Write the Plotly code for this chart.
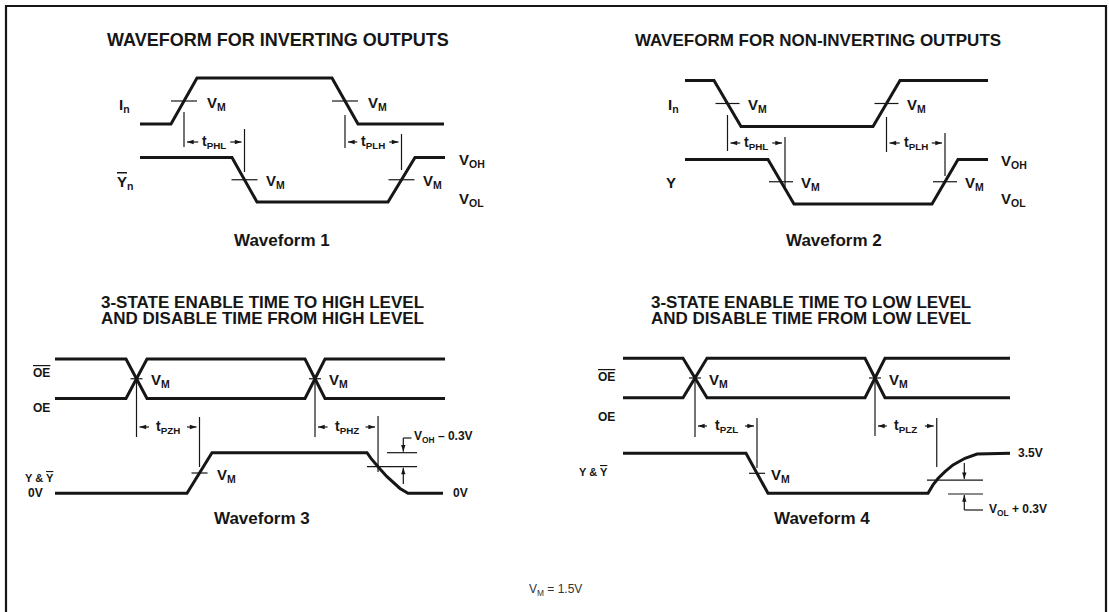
import plotly.graph_objects as go

# ---------------- data: waveform breakpoints (time units) and logic levels ----------------
# Waveform 1 - inverting outputs
W1_IN_T = [140, 171, 197, 332, 358, 444]
W1_IN_LV = [0, 0, 1, 1, 0, 0]
W1_YN_T = [140, 232, 257, 388, 415, 445]
W1_YN_LV = [1, 1, 0, 0, 1, 1]

# Waveform 2 - non-inverting outputs
W2_IN_T = [685, 714, 741, 873, 900, 988]
W2_IN_LV = [1, 1, 0, 0, 1, 1]
W2_Y_T = [685, 768, 794, 932, 958, 988]
W2_Y_LV = [1, 1, 0, 0, 1, 1]

# Waveform 3 - 3-state enable/disable, high level
W3_OE_T = [55, 126, 147, 305, 325, 445]
W3_OEB_LV = [1, 1, 0, 0, 1, 1]
W3_OE_LV = [0, 0, 1, 1, 0, 0]
W3_Y_T = [55, 187, 212, 367, 371, 375, 380, 387, 393, 400, 408, 443]
W3_Y_LV = [0, 0, 1, 1, 0.86, 0.74, 0.60, 0.41, 0.27, 0.12, 0, 0]
W3_REF_LV = 0.655          # VOH - 0.3V level

# Waveform 4 - 3-state enable/disable, low level
W4_OE_T = [623, 683, 707, 865, 885, 1010]
W4_OEB_LV = [1, 1, 0, 0, 1, 1]
W4_OE_LV = [0, 0, 1, 1, 0, 0]
W4_Y_T = [623, 746, 768, 928, 933, 938, 945, 953, 965, 977, 1010]
W4_Y_LV = [1, 1, 0, 0, 0.21, 0.37, 0.54, 0.71, 0.875, 0.98, 1]
W4_REF_LV = 0.33           # VOL + 0.3V level

# ---------------- layout: row positions (level 0, level 1) ----------------
ROW_W1_IN = (124, 78)
ROW_W1_YN = (202, 157.5)
ROW_W2_IN = (126.5, 80.5)
ROW_W2_Y = (204, 159.5)
ROW_W3_OE = (398.5, 359)
ROW_W3_Y = (493.3, 452.7)
ROW_W4_OE = (397.7, 358.3)
ROW_W4_Y = (493.3, 453.3)

BLACK = '#161616'
FONT = 'Liberation Sans, Arial, Helvetica, sans-serif'
OVL = "<span style='text-decoration:overline'>{}</span>"


def ypos(row, v):
    lo, hi = row
    return lo + (hi - lo) * v


def cross(ts, i):
    return (ts[i] + ts[i + 1]) / 2


def at_level_last(ts, lvs, target):
    # crossing of the target level on the last (disable) transition
    for i in range(len(ts) - 2, -1, -1):
        a, b = lvs[i], lvs[i + 1]
        if a != b and min(a, b) <= target <= max(a, b):
            return ts[i] + (target - a) / (b - a) * (ts[i + 1] - ts[i])
    return ts[-1]


fig = go.Figure()

THIN_X, THIN_Y = [], []
THICK_X, THICK_Y = [], []
HEAD_X, HEAD_Y, HEAD_A = [], [], []


def line(xs, ys):
    THIN_X.extend(list(xs) + [None])
    THIN_Y.extend(list(ys) + [None])


def signal(ts, lvs, row):
    THICK_X.extend(list(ts) + [None])
    THICK_Y.extend([ypos(row, v) for v in lvs] + [None])


def txt(x, y, s, size=14, bold=True, anchor='left', color=BLACK, height=None):
    kw = {}
    if height:
        kw['height'] = height
    fig.add_annotation(x=x, y=y, text=f'<b>{s}</b>' if bold else s, showarrow=False,
                       xanchor=anchor, yanchor='middle',
                       font=dict(family=FONT, size=size, color=color), **kw)


def arrow(x0, y0, x1, y1):
    line([x0, x1], [y0, y1])
    HEAD_X.append(x1)
    HEAD_Y.append(y1)
    if abs(x1 - x0) > abs(y1 - y0):
        HEAD_A.append(90 if x1 > x0 else -90)
    else:
        HEAD_A.append(180 if y1 > y0 else 0)   # screen y grows downward


def vm_tick(x, row, half, lab_dx, lab=True):
    y = ypos(row, 0.5)
    line([x - half, x + half], [y, y])
    if lab:
        txt(x + half + lab_dx, y + 2, 'V<sub>M</sub>', 15)


def measure(x0, x1, lab, yl, y0a, y0b, y1a, y1b, half_w):
    line([x0, x0], [y0a, y0b])
    line([x1, x1], [y1a, y1b])
    xc = (x0 + x1) / 2
    txt(xc, yl, lab, 14, anchor='center')
    arrow(xc - half_w, yl, x0 + 3, yl)
    arrow(xc + half_w, yl, x1 - 3, yl)


# ---------------- Waveform 1 ----------------
txt(278, 40, 'WAVEFORM FOR INVERTING OUTPUTS', 18, anchor='center')
signal(W1_IN_T, W1_IN_LV, ROW_W1_IN)
signal(W1_YN_T, W1_YN_LV, ROW_W1_YN)
for i in (1, 3):
    vm_tick(cross(W1_IN_T, i), ROW_W1_IN, 13, 8)
    vm_tick(cross(W1_YN_T, i), ROW_W1_YN, 13, 6)
txt(117, 105, 'I<sub>n</sub>', 15)
txt(115, 182, OVL.format('Y') + '<sub>n</sub>', 15)
txt(457, 160, 'V<sub>OH</sub>', 15)
txt(457, 199, 'V<sub>OL</sub>', 15)
measure(cross(W1_IN_T, 1), cross(W1_YN_T, 1), 't<sub>PHL</sub>', 142, 112, 147, 129, 172, 16)
measure(cross(W1_IN_T, 3), cross(W1_YN_T, 3), 't<sub>PLH</sub>', 142, 115, 148, 134, 170, 16)
txt(282, 240, 'Waveform 1', 17, anchor='center')

# ---------------- Waveform 2 ----------------
txt(818, 40, 'WAVEFORM FOR NON-INVERTING OUTPUTS', 17, anchor='center')
signal(W2_IN_T, W2_IN_LV, ROW_W2_IN)
signal(W2_Y_T, W2_Y_LV, ROW_W2_Y)
for i in (1, 3):
    vm_tick(cross(W2_IN_T, i), ROW_W2_IN, 12, 6)
    vm_tick(cross(W2_Y_T, i), ROW_W2_Y, 12, 6)
txt(666, 105, 'I<sub>n</sub>', 15)
txt(664, 182, 'Y', 15)
txt(999, 161, 'V<sub>OH</sub>', 15)
txt(999, 199, 'V<sub>OL</sub>', 15)
measure(cross(W2_IN_T, 1), cross(W2_Y_T, 1) + 4, 't<sub>PHL</sub>', 143, 115, 151, 137, 187, 16)
measure(cross(W2_IN_T, 3), cross(W2_Y_T, 3), 't<sub>PLH</sub>', 143, 117, 152, 133, 176, 16)
txt(834, 240, 'Waveform 2', 17, anchor='center')

# ---------------- Waveform 3 ----------------
txt(262, 302, '3-STATE ENABLE TIME TO HIGH LEVEL', 17, anchor='center', height=15)
txt(262, 318, 'AND DISABLE TIME FROM HIGH LEVEL', 17, anchor='center', height=15)
signal(W3_OE_T, W3_OEB_LV, ROW_W3_OE)
signal(W3_OE_T, W3_OE_LV, ROW_W3_OE)
signal(W3_Y_T, W3_Y_LV, ROW_W3_Y)
for i in (1, 3):
    vm_tick(cross(W3_OE_T, i), ROW_W3_OE, 6, 6)
vm_tick(cross(W3_Y_T, 1), ROW_W3_Y, 8, 7)
txt(31, 373, OVL.format('OE'), 12)
txt(31, 408, 'OE', 12)
txt(23, 478, 'Y &amp; ' + OVL.format('Y'), 11)
txt(26, 493, '0V', 12)
txt(451, 493, '0V', 12)
x_phz = at_level_last(W3_Y_T, W3_Y_LV, W3_REF_LV)
measure(cross(W3_OE_T, 1), cross(W3_Y_T, 1), 't<sub>PZH</sub>', 427, 381, 437, 417, 467, 19)
measure(cross(W3_OE_T, 3), x_phz, 't<sub>PHZ</sub>', 427, 380, 437, 416, 472, 19)
y_hi = ypos(ROW_W3_Y, 1)
y_ref = ypos(ROW_W3_Y, W3_REF_LV)
line([387, 417], [y_hi, y_hi])
line([367, 417], [y_ref, y_ref])
line([403.3, 411.5], [438, 438])
arrow(403.3, 438, 403.3, y_hi - 1)
arrow(403.3, 484, 403.3, y_ref + 1)
txt(412, 437, 'V<sub>OH</sub> \u2013 0.3V', 12)
txt(262, 518, 'Waveform 3', 17, anchor='center')

# ---------------- Waveform 4 ----------------
txt(811, 302, '3-STATE ENABLE TIME TO LOW LEVEL', 17, anchor='center', height=15)
txt(811, 318, 'AND DISABLE TIME FROM LOW LEVEL', 17, anchor='center', height=15)
signal(W4_OE_T, W4_OEB_LV, ROW_W4_OE)
signal(W4_OE_T, W4_OE_LV, ROW_W4_OE)
signal(W4_Y_T, W4_Y_LV, ROW_W4_Y)
for i in (1, 3):
    vm_tick(cross(W4_OE_T, i), ROW_W4_OE, 6, 6)
vm_tick(cross(W4_Y_T, 1), ROW_W4_Y, 8, 4)
txt(596, 377, OVL.format('OE'), 12)
txt(596, 417, 'OE', 12)
txt(577, 472, 'Y &amp; ' + OVL.format('Y'), 11)
txt(1016, 453, '3.5V', 12)
x_plz = at_level_last(W4_Y_T, W4_Y_LV, W4_REF_LV)
measure(cross(W4_OE_T, 1), cross(W4_Y_T, 1), 't<sub>PZL</sub>', 426, 379, 437, 418, 468, 19)
measure(cross(W4_OE_T, 3), x_plz, 't<sub>PLZ</sub>', 426, 379, 436, 418, 467, 19)
y_ref4 = ypos(ROW_W4_Y, W4_REF_LV)
y_lo4 = ypos(ROW_W4_Y, 0) + 0.7
line([927, 983], [y_ref4, y_ref4])
line([948, 983], [y_lo4, y_lo4])
arrow(964.3, 463, 964.3, y_ref4 - 1)
arrow(964.3, 510, 964.3, y_lo4 + 1)
line([964.3, 983], [510, 510])
txt(987, 510, 'V<sub>OL</sub> + 0.3V', 12)
txt(822, 518, 'Waveform 4', 17, anchor='center')

# ---------------- footer ----------------
txt(555, 590, 'V<sub>M</sub> = 1.5V', 12, bold=False, anchor='center', color='#333333')

# ---------------- traces ----------------
fig.add_trace(go.Scatter(x=THICK_X, y=THICK_Y, mode='lines',
                         line=dict(color=BLACK, width=3), hoverinfo='skip'))
fig.add_trace(go.Scatter(x=THIN_X, y=THIN_Y, mode='lines',
                         line=dict(color=BLACK, width=1.2), hoverinfo='skip'))
fig.add_trace(go.Scatter(x=HEAD_X, y=HEAD_Y, mode='markers',
                         marker=dict(symbol='arrow', angle=HEAD_A, size=7, color=BLACK,
                                     line=dict(width=0)), hoverinfo='skip'))

# frame
fig.add_shape(type='rect', x0=6, y0=6, x1=1106, y1=700, xref='x', yref='y',
              line=dict(color=BLACK, width=2.2), fillcolor='rgba(0,0,0,0)')

fig.update_layout(
    width=1109, height=612, margin=dict(l=0, r=0, t=0, b=0),
    paper_bgcolor='white', plot_bgcolor='white', showlegend=False,
    xaxis=dict(range=[0, 1109], visible=False, fixedrange=True),
    yaxis=dict(range=[612, 0], visible=False, fixedrange=True),
)
fig.write_html('out.html', config={'displayModeBar': False},
               post_script="document.body.style.margin='0px';document.body.style.overflow='hidden';")
